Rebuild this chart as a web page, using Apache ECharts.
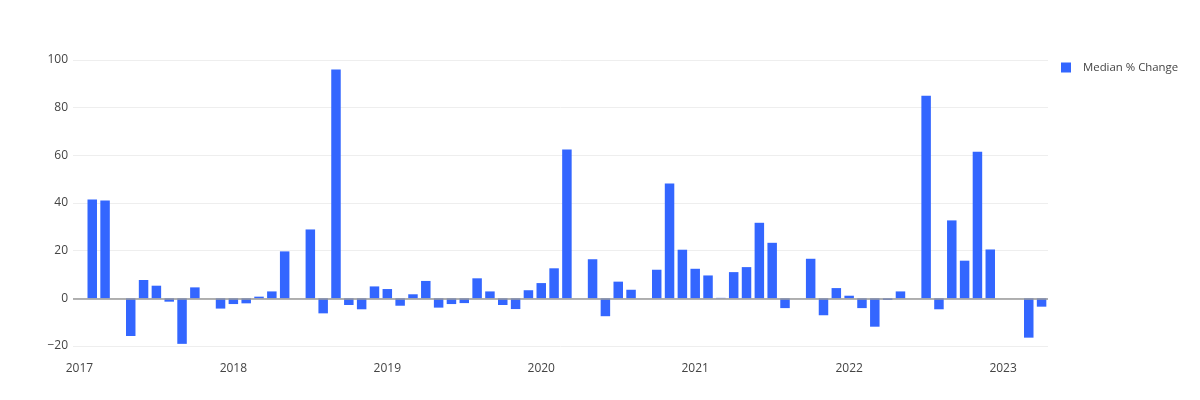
<!DOCTYPE html>
<html>
<head>
<meta charset="utf-8">
<script src="https://cdn.jsdelivr.net/npm/echarts@6/dist/echarts.min.js"></script>
<style>
html,body{margin:0;padding:0;background:#fff;}
#chart{width:1200px;height:400px;}
</style>
</head>
<body>
<div id="chart"></div>
<script>
// Monthly categories Jan 2017 .. Apr 2023
const months = [];
for (let y = 2017; y <= 2023; y++) {
  for (let m = 1; m <= 12; m++) {
    if (y === 2023 && m > 4) break;
    months.push(y + '-' + String(m).padStart(2, '0'));
  }
}
const seriesName = 'Median % Change';
const values2017 = [null, 41.5, 41.1, null, -15.8, 7.7, 5.3, -1.4, -19.1, 4.6, null, -4.3];
const values2018 = [-2.4, -2.1, 0.7, 2.9, 19.7, null, 28.9, -6.3, 96.0, -2.8, -4.6, 5.0];
const values2019 = [3.9, -3.1, 1.7, 7.3, -3.9, -2.4, -2.0, 8.4, 2.9, -2.8, -4.5, 3.4];
const values2020 = [6.4, 12.6, 62.5, null, 16.4, -7.5, 7.0, 3.6, null, 12.0, 48.2, 20.4];
const values2021 = [12.4, 9.6, 0.2, 11.0, 13.1, 31.7, 23.3, -4.1, null, 16.6, -7.1, 4.3];
const values2022 = [1.1, -4.1, -11.9, -0.7, 2.9, null, 85.0, -4.6, 32.7, 15.8, 61.5, 20.5];
const values2023 = [null, null, -16.5, -3.5];
const values = [].concat(values2017, values2018, values2019, values2020, values2021, values2022, values2023);
const yTicks = [-20, 0, 20, 40, 60, 80, 100];

const chart = echarts.init(document.getElementById('chart'), null, {renderer: 'canvas'});
const font = '"Open Sans", "DejaVu Sans", sans-serif';
chart.setOption({
  animation: false,
  backgroundColor: '#fff',
  textStyle: {fontFamily: font},
  grid: {left: 73, right: 152, top: 60, bottom: 54, containLabel: false},
  legend: {
    show: true,
    data: [seriesName],
    left: 1061,
    top: 62,
    padding: 0,
    orient: 'vertical',
    itemWidth: 10,
    itemHeight: 10,
    icon: 'rect',
    textStyle: {color: '#444', fontSize: 11.4, fontFamily: font, padding: [0, 0, 0, 7]}
  },
  xAxis: {
    type: 'category',
    data: months,
    boundaryGap: true,
    axisLine: {show: false, onZero: false},
    axisTick: {show: false},
    splitLine: {show: false},
    axisLabel: {
      color: '#444',
      fontSize: 12,
      fontFamily: font,
      margin: 17,
      interval: function (idx) { return idx % 12 === 0; },
      formatter: function (v) { return v.slice(0, 4); }
    }
  },
  yAxis: {
    type: 'value',
    min: yTicks[0],
    max: yTicks[yTicks.length - 1],
    interval: 20,
    axisLine: {show: false},
    axisTick: {show: false},
    splitLine: {lineStyle: {color: '#eeeeee', width: 1}},
    axisLabel: {
      color: '#444',
      fontSize: 12,
      fontFamily: font,
      margin: 5,
      formatter: function (v) { return String(v).replace('-', '\u2212'); }
    }
  },
  series: [{
    name: seriesName,
    type: 'bar',
    data: values,
    barWidth: '74%',
    itemStyle: {color: '#3366FF'},
    markLine: {
      silent: true,
      symbol: 'none',
      label: {show: false},
      lineStyle: {color: '#999', width: 1.5, type: 'solid'},
      data: [{yAxis: 0}]
    }
  }]
});
</script>
</body>
</html>
